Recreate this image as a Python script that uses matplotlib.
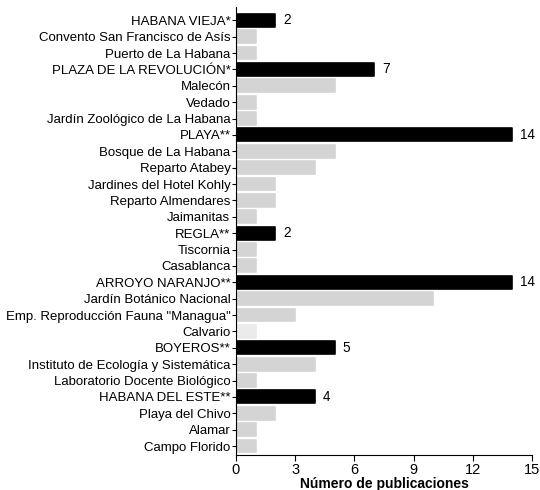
import matplotlib
matplotlib.use('Agg')
import matplotlib.pyplot as plt

plt.rcParams['font.family'] = ['Liberation Sans', 'DejaVu Sans']

# Sitios / municipios y número de publicaciones
labels = ['HABANA VIEJA*', 'Convento San Francisco de Asís', 'Puerto de La Habana',
          'PLAZA DE LA REVOLUCIÓN*', 'Malecón', 'Vedado', 'Jardín Zoológico de La Habana',
          'PLAYA**', 'Bosque de La Habana', 'Reparto Atabey', 'Jardines del Hotel Kohly',
          'Reparto Almendares', 'Jaimanitas', 'REGLA**', 'Tiscornia', 'Casablanca',
          'ARROYO NARANJO**', 'Jardín Botánico Nacional', 'Emp. Reproducción Fauna "Managua"',
          'Calvario', 'BOYEROS**', 'Instituto de Ecología y Sistemática',
          'Laboratorio Docente Biológico', 'HABANA DEL ESTE**', 'Playa del Chivo',
          'Alamar', 'Campo Florido']
values = [2, 1, 1, 7, 5, 1, 1, 14, 5, 4, 2, 2, 1, 2, 1, 1, 14, 10, 3, 1, 5, 4, 1, 4, 2, 1, 1]
is_municipio = [l.isupper() for l in labels]

fig = plt.figure(figsize=(5.4, 4.9), dpi=100)
ax = fig.add_axes([0.437, 0.0714, 0.548, 0.914])

for i, (v, m, l) in enumerate(zip(values, is_municipio, labels)):
    if m:
        color = 'black'
    elif l == 'Calvario':
        color = '#ebebeb'
    else:
        color = '#d4d4d4'
    ax.barh(i, v, height=0.78, color=color, edgecolor=color, linewidth=1.2,
            joinstyle='round')
    if m:
        ax.text(v + 0.4, i, str(v), va='center', ha='left', fontsize=9.8)

ax.set_yticks(range(len(labels)))
ax.set_yticklabels(labels, fontsize=9.5)
ax.set_ylim(len(labels) - 0.45, -0.8)
ax.set_xlim(0, 15)
ax.set_xticks([0, 3, 6, 9, 12, 15])
ax.tick_params(axis='x', labelsize=10.5, length=4, pad=2)
ax.tick_params(axis='y', length=3, pad=1)
ax.spines['top'].set_visible(False)
ax.spines['right'].set_visible(False)
ax.set_xlabel('Número de publicaciones', fontsize=10, fontweight='bold', labelpad=0)

plt.savefig('out.png', dpi=100)
